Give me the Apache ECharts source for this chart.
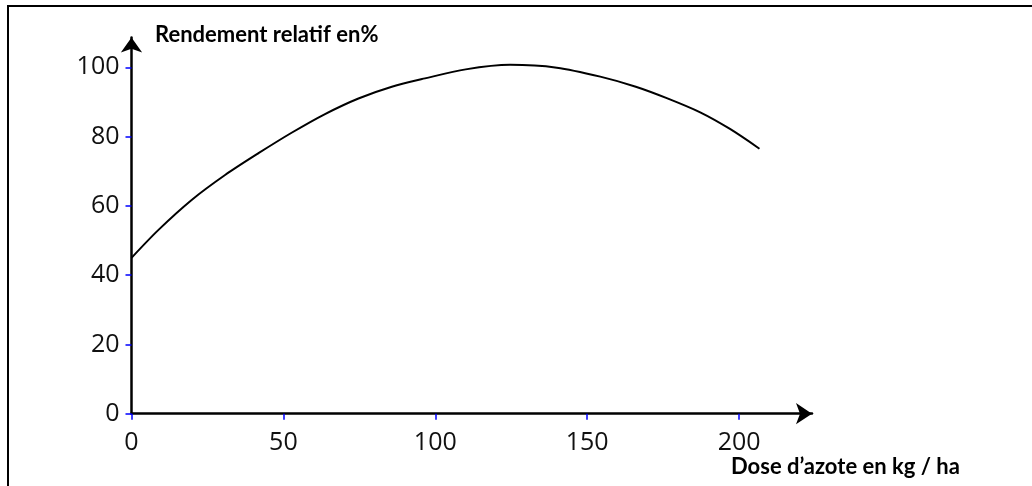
<!DOCTYPE html>
<html>
<head>
<meta charset="utf-8">
<script src="https://cdn.jsdelivr.net/npm/echarts@6/dist/echarts.min.js"></script>
<style>
html,body{margin:0;padding:0;background:#fff;}
#chart{width:1032px;height:486px;}
</style>
</head>
<body>
<div id="chart"></div>
<script>
// Data
const doseAzote = [0, 8.8, 19.8, 30.8, 41.8, 52.7, 63.7, 74.7, 85.7, 96.6, 110, 124.6, 140, 154.3, 166, 176.2, 187.2, 197, 206.7];
const rendement = [45, 53.0, 61.7, 68.9, 75.2, 81.1, 86.5, 91.0, 94.4, 96.8, 99.4, 100.7, 99.9, 97.3, 94.4, 91.1, 87.0, 82.2, 76.5];
const xTicks = [0, 50, 100, 150, 200];
const yTicks = [0, 20, 40, 60, 80, 100];
const yTitle = 'Rendement relatif en%';
const xTitle = 'Dose d\u2019azote en kg / ha';

const chart = echarts.init(document.getElementById('chart'), null, {renderer: 'canvas'});
const pts = doseAzote.map((x, i) => [x, rendement[i]]);
const labelFont = 'Open Sans';
chart.setOption({
  animation: false,
  backgroundColor: '#ffffff',
  grid: {left: 131.5, top: 37.5, width: 680.5, height: 376.2, containLabel: false},
  xAxis: {
    type: 'value', min: 0, max: 224,
    splitLine: {show: false},
    axisLine: {show: true, symbol: ['none', 'arrow'], symbolSize: [16, 16], lineStyle: {color: '#000', width: 2.5}},
    axisTick: {show: true, customValues: xTicks, length: 6, lineStyle: {color: '#0000ff', width: 1.5}},
    axisLabel: {customValues: xTicks, margin: 17, color: '#111', fontSize: 25, fontFamily: labelFont}
  },
  yAxis: {
    type: 'value', min: 0, max: 108.6,
    splitLine: {show: false},
    axisLine: {show: true, symbol: ['none', 'arrow'], symbolSize: [16, 15], lineStyle: {color: '#000', width: 2.5}},
    axisTick: {show: true, customValues: yTicks, length: 6, lineStyle: {color: '#0000ff', width: 1.5}},
    axisLabel: {customValues: yTicks, margin: 12, color: '#111', fontSize: 25, fontFamily: labelFont, padding: [10, 0, 0, 0]}
  },
  series: [{
    type: 'line',
    data: pts,
    smooth: 0.3,
    showSymbol: false,
    lineStyle: {color: '#000', width: 2}
  }],
  graphic: [
    {type: 'polyline', shape: {points: [[8, 490], [8, 6], [1034, 6]]}, style: {stroke: '#000', lineWidth: 2, fill: null}},
    {type: 'text', left: 155, top: 24, style: {text: yTitle, font: 'bold 22px Lato', fill: '#000'}},
    {type: 'text', left: 731, top: 456, style: {text: xTitle, font: 'bold 22px Lato', fill: '#000'}}
  ]
});
</script>
</body>
</html>
